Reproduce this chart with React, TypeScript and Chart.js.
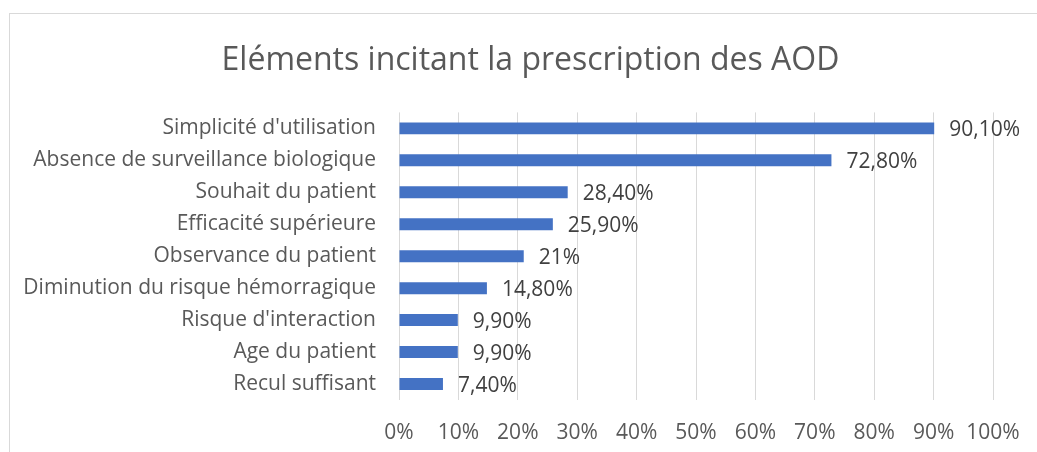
import React, { useEffect, useRef } from "react";
import { Chart, registerables } from "chart.js";

Chart.register(...registerables);

const titleText = "Eléments incitant la prescription des AOD";
const categories = [
  "Simplicité d'utilisation",
  "Absence de surveillance biologique",
  "Souhait du patient",
  "Efficacité supérieure",
  "Observance du patient",
  "Diminution du risque hémorragique",
  "Risque d'interaction",
  "Age du patient",
  "Recul suffisant",
];
const values = [90.1, 72.8, 28.4, 25.9, 21, 14.8, 9.9, 9.9, 7.4];
const xTicks = [0, 10, 20, 30, 40, 50, 60, 70, 80, 90, 100];

const FONT = "'Open Sans', 'Noto Sans', sans-serif";

const fmt = (v: number) =>
  Number.isInteger(v) ? `${v}%` : `${v.toFixed(2).replace(".", ",")}%`;

const dataLabelPlugin = {
  id: "dataLabels",
  afterDatasetsDraw(chart: any) {
    const ctx = chart.ctx;
    const meta = chart.getDatasetMeta(0);
    ctx.save();
    ctx.font = `21px ${FONT}`;
    ctx.fillStyle = "#404040";
    ctx.textAlign = "left";
    ctx.textBaseline = "middle";
    meta.data.forEach((bar: any, i: number) => {
      ctx.fillText(fmt(values[i]), bar.x + 15, bar.y + 2);
    });
    ctx.restore();
  },
};

export default function App() {
  const ref = useRef<HTMLCanvasElement | null>(null);
  useEffect(() => {
    document.body.style.margin = "0";
    document.body.style.overflow = "hidden";
    if (!ref.current) return;
    const chart = new Chart(ref.current, {
      type: "bar",
      data: {
        labels: categories,
        datasets: [
          {
            data: values,
            backgroundColor: "#4472C4",
            borderWidth: 0,
            categoryPercentage: 1,
            barPercentage: 0.375,
          },
        ],
      },
      options: {
        indexAxis: "y",
        animation: false,
        responsive: false,
        maintainAspectRatio: false,
        layout: { padding: { left: 0, right: 0, top: 0, bottom: 0 } },
        plugins: {
          legend: { display: false },
          tooltip: { enabled: false },
          title: {
            display: true,
            text: titleText,
            color: "#595959",
            font: { family: FONT, size: 32, weight: "normal" as any, lineHeight: 1.2 },
            padding: { top: 28, bottom: 32 },
          },
        },
        scales: {
          x: {
            min: 0,
            max: 100,
            afterBuildTicks(scale: any) {
              scale.ticks = xTicks.map((v) => ({ value: v }));
            },
            afterFit(scale: any) {
              scale.height = 52;
            },
            grid: { color: "#d9d9d9", lineWidth: 1, drawTicks: false },
            border: { display: false },
            ticks: {
              padding: 20,
              color: "#595959",
              font: { family: FONT, size: 21 },
              callback: (v: any) => `${v}%`,
              autoSkip: false,
              maxRotation: 0,
            },
          },
          y: {
            afterFit(scale: any) {
              scale.width = 389;
            },
            grid: { display: false, drawTicks: false },
            border: { display: false },
            ticks: {
              padding: 23,
              color: "#595959",
              font: { family: FONT, size: 21 },
              autoSkip: false,
            },
          },
          y2: {
            type: "category",
            position: "right",
            labels: categories,
            afterFit(scale: any) {
              scale.width = 58;
            },
            grid: { display: false, drawTicks: false },
            border: { display: false },
            ticks: { display: false },
          },
        },
      },
      plugins: [dataLabelPlugin],
    });
    return () => chart.destroy();
  }, []);

  return (
    <div
      style={{
        position: "absolute",
        left: 9,
        top: 13,
        width: 1042,
        height: 460,
        borderLeft: "1px solid #d9d9d9",
        borderTop: "1px solid #d9d9d9",
        background: "#fff",
      }}
    >
      <canvas ref={ref} width={1041} height={438} style={{ display: "block" }} />
    </div>
  );
}
